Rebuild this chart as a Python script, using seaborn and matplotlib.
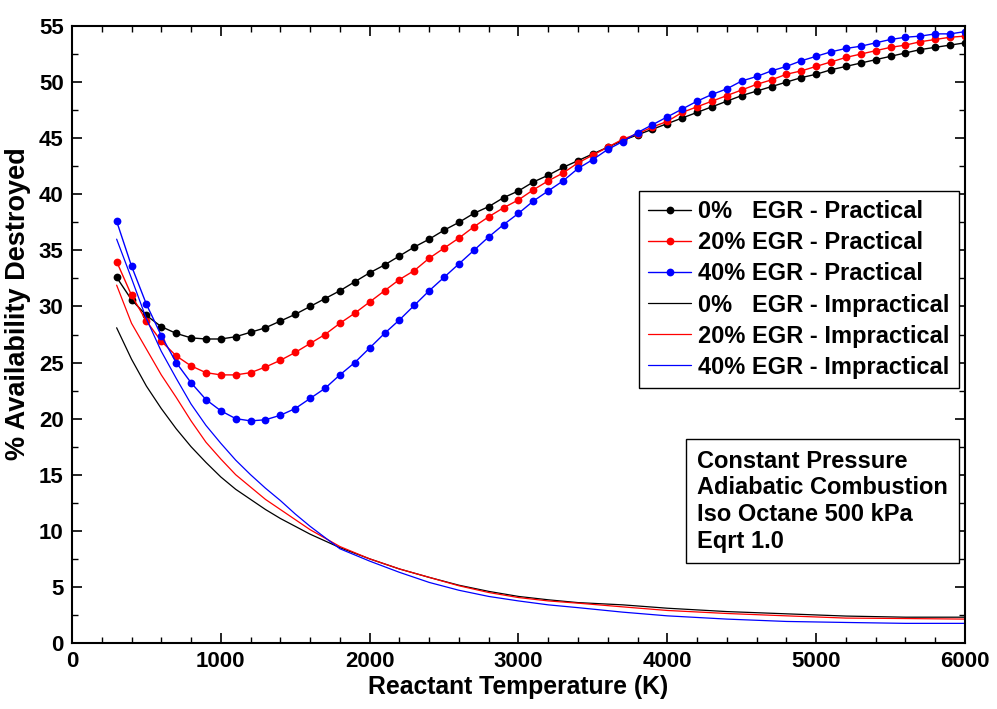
import numpy as np
import pandas as pd
import matplotlib
matplotlib.use("Agg")
import matplotlib.pyplot as plt
import seaborn as sns
from matplotlib.ticker import MultipleLocator

# ---------------- data ----------------
temp_practical = list(range(300, 6001, 100))

egr0_practical = [32.6, 30.6, 29.2, 28.2, 27.6, 27.2, 27.1, 27.1,
                  27.3, 27.7, 28.1, 28.7, 29.3, 30.0, 30.7, 31.4, 32.2, 33.0,
                  33.7, 34.5, 35.3, 36.0, 36.8, 37.5, 38.3, 38.9, 39.7, 40.3,
                  41.1, 41.7, 42.4, 43.0, 43.6, 44.2, 44.8, 45.3, 45.8, 46.3,
                  46.8, 47.3, 47.8, 48.3, 48.8, 49.2, 49.6, 50.0, 50.4, 50.7,
                  51.1, 51.4, 51.7, 52.0, 52.3, 52.6, 52.9, 53.1, 53.3, 53.5]

egr20_practical = [34.0, 31.0, 28.7, 26.9, 25.6, 24.7, 24.1, 23.9,
                   23.9, 24.1, 24.6, 25.2, 25.9, 26.7, 27.5, 28.5, 29.4, 30.4,
                   31.4, 32.4, 33.2, 34.3, 35.2, 36.1, 37.1, 38.0, 38.8, 39.5,
                   40.4, 41.2, 41.9, 42.8, 43.5, 44.2, 44.9, 45.4, 46.0, 46.5,
                   47.3, 47.8, 48.3, 48.8, 49.3, 49.8, 50.2, 50.7, 51.0, 51.4,
                   51.8, 52.2, 52.5, 52.8, 53.1, 53.3, 53.6, 53.8, 54.0, 54.1]

egr40_practical = [37.6, 33.6, 30.2, 27.4, 25.0, 23.2, 21.7, 20.7,
                   20.0, 19.8, 19.9, 20.3, 20.9, 21.8, 22.7, 23.9, 25.0, 26.3,
                   27.6, 28.8, 30.1, 31.4, 32.6, 33.8, 35.0, 36.2, 37.3, 38.3,
                   39.4, 40.3, 41.2, 42.3, 43.1, 44.0, 44.7, 45.5, 46.2, 46.9,
                   47.6, 48.3, 48.9, 49.4, 50.1, 50.5, 51.0, 51.4, 51.9, 52.3,
                   52.7, 53.0, 53.2, 53.5, 53.8, 54.0, 54.1, 54.3, 54.3, 54.5]

temp_impractical = [300, 400, 500, 600, 700, 800, 900, 1000, 1100, 1200,
                    1300, 1400, 1500, 1600, 1800, 2000, 2200, 2400, 2600, 2800,
                    3000, 3200, 3400, 3700, 4000, 4400, 4800, 5200, 5600, 6000]

egr0_impractical = [28.1, 25.3, 22.9, 20.9, 19.1, 17.5, 16.1, 14.8, 13.7, 12.8,
                    11.9, 11.1, 10.4, 9.7, 8.5, 7.5, 6.6, 5.85, 5.15, 4.6,
                    4.15, 3.85, 3.6, 3.4, 3.1, 2.8, 2.6, 2.4, 2.3, 2.3]

egr20_impractical = [31.9, 28.5, 26.2, 23.9, 21.9, 19.8, 17.9, 16.4, 15.0, 13.9,
                     12.8, 11.9, 11.0, 10.1, 8.6, 7.5, 6.6, 5.85, 5.1, 4.5,
                     4.05, 3.75, 3.55, 3.22, 2.9, 2.63, 2.42, 2.22, 2.18, 2.13]

egr40_impractical = [36.0, 32.5, 28.9, 26.0, 23.6, 21.3, 19.4, 17.8, 16.3, 15.0,
                     13.8, 12.7, 11.5, 10.4, 8.4, 7.3, 6.3, 5.4, 4.7, 4.15,
                     3.75, 3.4, 3.15, 2.75, 2.42, 2.13, 1.92, 1.83, 1.75, 1.75]

practical_labels = ["0%   EGR - Practical", "20% EGR - Practical", "40% EGR - Practical"]
impractical_labels = ["0%   EGR - Impractical", "20% EGR - Impractical", "40% EGR - Impractical"]
series_colors = ["black", "red", "blue"]

box_text = "Constant Pressure\nAdiabatic Combustion\nIso Octane 500 kPa\nEqrt 1.0"

# ---------------- style ----------------
sns.set_theme(style="ticks")
plt.rcParams["font.family"] = ["Liberation Sans", "DejaVu Sans"]
plt.rcParams["font.weight"] = "bold"
plt.rcParams["axes.labelweight"] = "bold"
plt.rcParams["text.color"] = "black"
plt.rcParams["axes.labelcolor"] = "black"
plt.rcParams["xtick.color"] = "black"
plt.rcParams["ytick.color"] = "black"
plt.rcParams["axes.edgecolor"] = "black"

fig = plt.figure(figsize=(9.97, 7.09), dpi=100)
ax = fig.add_axes([0.0722, 0.0931, 0.8957, 0.8702])

for lab, yv, col in zip(practical_labels,
                        [egr0_practical, egr20_practical, egr40_practical],
                        series_colors):
    df = pd.DataFrame({"T": temp_practical, "A": yv})
    sns.lineplot(data=df, x="T", y="A", color=col, marker="o", markersize=5.6,
                 markeredgewidth=0, linewidth=1.0, label=lab, ax=ax)

for lab, yv, col in zip(impractical_labels,
                        [egr0_impractical, egr20_impractical, egr40_impractical],
                        series_colors):
    df = pd.DataFrame({"T": temp_impractical, "A": yv})
    sns.lineplot(data=df, x="T", y="A", color=col, linewidth=0.9, label=lab, ax=ax)

ax.set_xlim(0, 6000)
ax.set_ylim(0, 55)
ax.xaxis.set_major_locator(MultipleLocator(1000))
ax.xaxis.set_minor_locator(MultipleLocator(200))
ax.yaxis.set_major_locator(MultipleLocator(5))
ax.yaxis.set_minor_locator(MultipleLocator(2.5))
ax.tick_params(which="both", direction="in", top=True, right=True, colors="black")
ax.tick_params(which="major", length=7, width=1.2, labelsize=16, pad=6)
ax.tick_params(which="minor", length=4, width=1.0)
for lbl in ax.get_xticklabels() + ax.get_yticklabels():
    lbl.set_fontweight("bold")
    lbl.set_color("black")
for sp in ax.spines.values():
    sp.set_linewidth(1.5)
    sp.set_color("black")

ax.set_xlabel("Reactant Temperature (K)", fontsize=17.8, fontweight="bold",
              labelpad=2, color="black")
ax.set_ylabel("% Availability Destroyed", fontsize=19.5, fontweight="bold",
              color="black")
ax.yaxis.set_label_coords(-0.046, 0.55)

leg = ax.legend(loc="upper left", bbox_to_anchor=(0.635, 0.7326), frameon=True,
                fancybox=False, edgecolor="black", framealpha=1,
                prop={"weight": "bold", "size": 17.0}, handlelength=1.8,
                labelspacing=0.34, borderpad=0.4, handletextpad=0.3,
                borderaxespad=0)
leg.get_frame().set_linewidth(1.0)
for t in leg.get_texts():
    t.set_color("black")

ax.text(0.700, 0.313, box_text, transform=ax.transAxes, fontsize=17.0,
        fontweight="bold", va="top", ha="left", linespacing=1.2, color="black",
        bbox=dict(boxstyle="square,pad=0.45", fc="white", ec="black", lw=1.0))

fig.savefig("out.png", dpi=100)
